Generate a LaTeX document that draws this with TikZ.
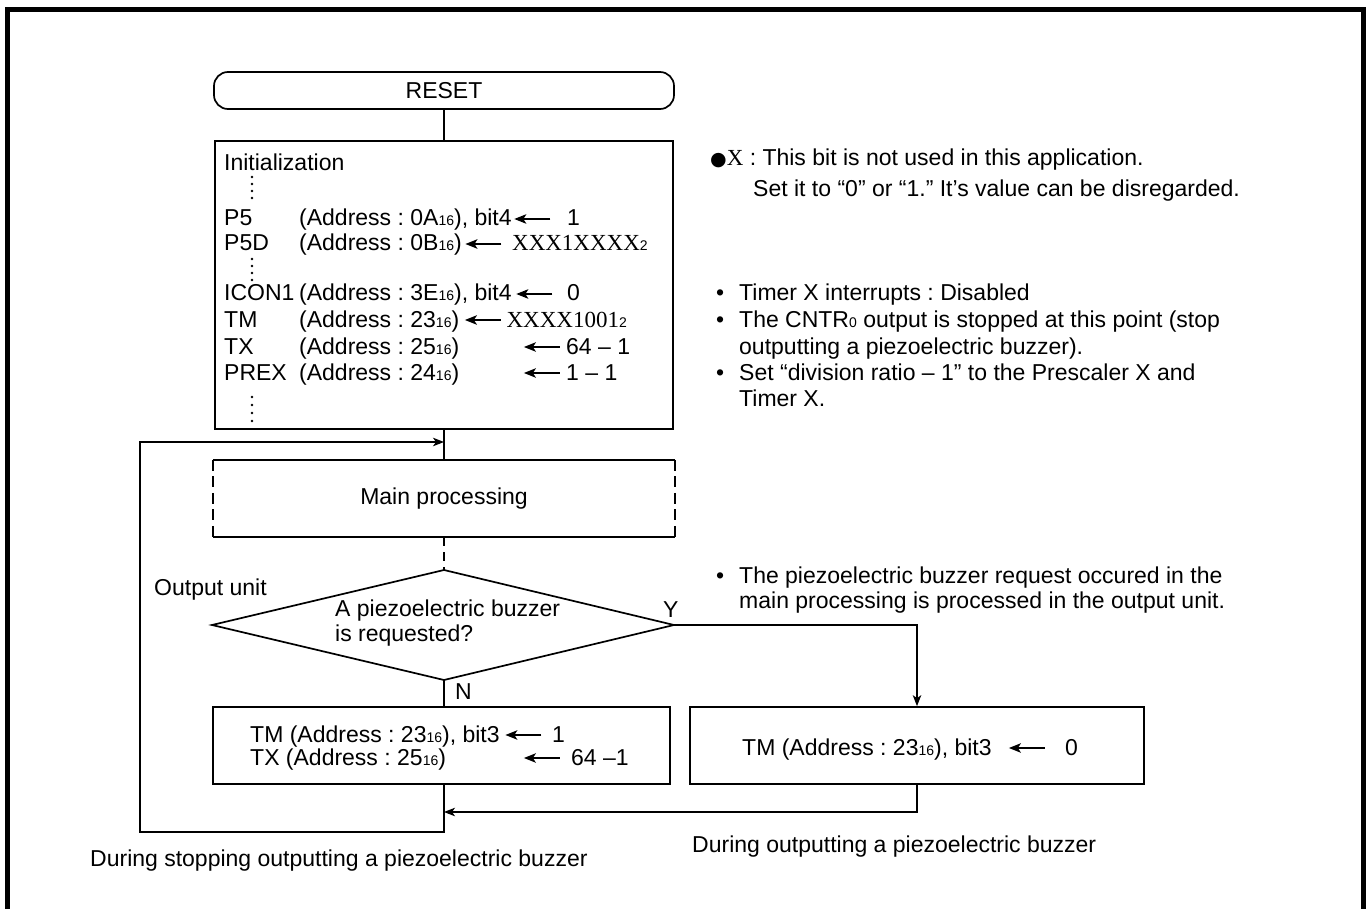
\documentclass[tikz,border=0pt]{standalone}
\usepackage{fontspec}
\setmainfont{Liberation Sans}
\newfontfamily\tms{Liberation Serif}
\newfontfamily\djv{DejaVu Sans}
\usetikzlibrary{arrows.meta}
\frenchspacing
\newcommand{\hx}[1]{{\fontsize{14}{14}\selectfont #1}}
\newcommand{\larr}{\tikz[x=1pt,y=1pt,baseline=-7pt]{\draw[line width=1.4pt,-{Stealth[length=12pt,width=9.5pt,inset=3pt]}] (36,0) -- (0,0);}}
\begin{document}
\begin{tikzpicture}[x=1pt,y=-1pt,
  txt/.style={inner sep=0pt, anchor=base west, font=\fontsize{23}{25}\selectfont},
  box/.style={draw, line width=1.7pt, inner sep=0pt, font=\fontsize{23}{25}\selectfont},
  con/.style={line width=1.1pt},
  arr/.style={con, -{Stealth[length=11pt,width=8.5pt,inset=3pt]}}]
\useasboundingbox (0,0) rectangle (1371,909);
\clip (0,0) rectangle (1371,909);
% outer frame
\draw[line width=4.8pt] (7.5,940) -- (7.5,9.5) -- (1363.5,9.5) -- (1363.5,940);

% RESET
\node[box, rounded corners=14pt, minimum width=460pt, minimum height=37pt] (reset) at (444,90.5) {RESET};
% Initialization box
\node[box, minimum width=458pt, minimum height=288pt] (init) at (444,285) {};
\node[txt] (tinit) at (224,171) {Initialization};
\foreach \yy in {177,184,191,198,259,266,273,280,397,405,413,421} \fill (252,\yy) circle (1.3pt);
\node[txt] (l1) at (224,226) {P5};
\node[txt] (a1) at (299,226) {(Address : 0A\hx{16}), bit4\hspace{2pt}\larr\hspace{16pt}1};
\node[txt] (l2) at (224,251) {P5D};
\node[txt] (a2) at (299,251) {(Address : 0B\hx{16})\hspace{3pt}\larr\hspace{10pt}{\tms XXX1XXXX}\hx{2}};
\node[txt] (l3) at (224,301) {ICON1};
\node[txt] (a3) at (299,301) {(Address : 3E\hx{16}), bit4\hspace{4pt}\larr\hspace{14pt}0};
\node[txt] (l4) at (224,327) {TM};
\node[txt] (a4) at (299,327) {(Address : 23\hx{16})\hspace{5pt}\larr\hspace{5pt}{\tms XXXX1001}\hx{2}};
\node[txt] (l5) at (224,354) {TX};
\node[txt] (a5) at (299,354) {(Address : 25\hx{16})};
\node[txt] (r5) at (523,354) {\larr};
\node[txt] (v5) at (566,354) {64 -- 1};
\node[txt] (l6) at (224,380) {PREX};
\node[txt] (a6) at (299,380) {(Address : 24\hx{16})};
\node[txt] (r6) at (523,380) {\larr};
\node[txt] (v6) at (566,380) {1 -- 1};

% notes
\node[txt] (n1) at (710,166) {{\fontsize{19}{19}\selectfont\djv ●}{\tms X} : This bit is not used in this application.};
\node[txt] (n2) at (753,197) {Set it to “0” or “1.” It’s value can be disregarded.};
\node[txt] (b1) at (716,301) {•};
\node[txt] (n3) at (739,301) {Timer X interrupts : Disabled};
\node[txt] (b2) at (716,327) {•};
\node[txt] (n4) at (739,327) {The CNTR\hx{0} output is stopped at this point (stop};
\node[txt] (n5) at (739,354) {outputting a piezoelectric buzzer).};
\node[txt] (b3) at (716,380) {•};
\node[txt] (n6) at (739,380) {Set “division ratio -- 1” to the Prescaler X and};
\node[txt] (n7) at (739,406) {Timer X.};
\node[txt] (b4) at (716,583) {•};
\node[txt] (n8) at (739,583) {The piezoelectric buzzer request occured in the};
\node[txt] (n9) at (739,608) {main processing is processed in the output unit.};

% main processing
\node[minimum width=462pt, minimum height=77pt, inner sep=0pt, font=\fontsize{23}{25}\selectfont] (main) at (444,498.5) {Main processing};
\draw[line width=1.7pt] (main.north west) -- (main.north east);
\draw[line width=1.7pt] (main.south west) -- (main.south east);
\draw[line width=1.7pt, dash pattern=on 11pt off 5.5pt] (main.north west) -- (main.south west);
\draw[line width=1.7pt, dash pattern=on 11pt off 5.5pt] (main.north east) -- (main.south east);

% decision
\coordinate (dN) at (444,570);
\coordinate (dW) at (212,625);
\coordinate (dE) at (674,625);
\coordinate (dS) at (444,680);
\draw[line width=1.7pt, line join=miter] (dN) -- (dE) -- (dS) -- (dW) -- cycle;
\node[txt] (q1) at (335,616) {A piezoelectric buzzer};
\node[txt] (q2) at (335,641) {is requested?};
\node[txt] (ou) at (154,595) {Output unit};
\node[txt] (ly) at (663,617) {Y};
\node[txt] (ln) at (455,699) {N};

% bottom boxes
\node[box, minimum width=457pt, minimum height=77pt] (lbox) at (441.5,745.5) {};
\node[txt] (c1) at (250,742) {TM (Address : 23\hx{16}), bit3\hspace{5pt}\larr\hspace{10pt}1};
\node[txt] (c2) at (250,765) {TX (Address : 25\hx{16})};
\node[txt] (cr2) at (523,765) {\larr};
\node[txt] (cv2) at (571,765) {64 --1};
\node[box, minimum width=454pt, minimum height=77pt] (rbox) at (917,745.5) {};
\node[txt] (d1) at (742,755) {TM (Address : 23\hx{16}), bit3};
\node[txt] (dr1) at (1008,755) {\larr};
\node[txt] (dv1) at (1065,755) {0};

\node[txt] (lab1) at (90,866) {During stopping outputting a piezoelectric buzzer};
\node[txt] (lab2) at (692,852) {During outputting a piezoelectric buzzer};

% connectors
\draw[con] (reset.south) -- (init.north);
\draw[con] (init.south) -- (main.north);
\draw[con, dash pattern=on 9pt off 6pt] (main.south) -- (dN);
\draw[con] (dS) -- (dS |- lbox.north);
\draw[arr] (dE) -- (dE -| rbox.north) -- (rbox.north);
\coordinate (ret) at (444,812);
\draw[arr] (rbox.south) |- (ret);
\coordinate (lpb) at (140,832);
\coordinate (lpt) at (140,442);
\draw[arr] (dS |- lbox.south) |- (lpb) -- (lpt) -- (lpt -| init.south);
\end{tikzpicture}
\end{document}
